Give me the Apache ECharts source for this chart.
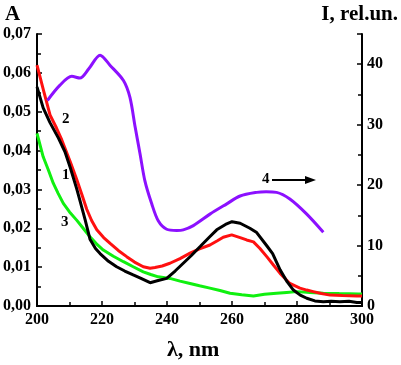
<!DOCTYPE html>
<html>
<head>
<meta charset="utf-8">
<script src="https://cdn.jsdelivr.net/npm/echarts@6/dist/echarts.min.js"></script>
<style>html,body{margin:0;padding:0;background:#fff}#c{width:401px;height:365px}</style>
</head>
<body>
<div id="c"></div>
<script>
// Curve 1 (black), absorbance
const wl1 = [200,201.9,204,206.6,208.6,210.2,212.2,213.2,214.8,216.3,218,219.4,222,224.5,227,229.6,232,234.8,237,239.9,242.5,245,247.5,250.2,253,255.3,258,260,262.5,265.5,267.6,270.7,272.5,274.8,277,278.9,281,283,285.5,288.1,290.5,293.2,296,298.4,300];
const a1 = [0.0564,0.0510,0.0472,0.0432,0.0397,0.0357,0.0302,0.0272,0.0222,0.0172,0.0148,0.0135,0.0115,0.0101,0.009,0.008,0.0071,0.006,0.0065,0.0071,0.009,0.011,0.013,0.0153,0.0177,0.0196,0.021,0.0217,0.0213,0.02,0.0189,0.0155,0.0135,0.0093,0.0062,0.0041,0.0028,0.002,0.0013,0.0011,0.0012,0.0011,0.0012,0.0009,0.0009];
// Curve 2 (red), absorbance
const wl2 = [200,202,204,206,207.6,210.2,212.2,213.8,215.3,216.8,218.4,220.5,222.5,225,227.6,230,232.7,234.8,236.3,238.5,240.9,244,247.1,250,253.2,255.5,257.3,259.9,262.5,264.5,266.6,268.6,270.7,272.8,274.8,277.8,280.9,283,285,287.5,290.2,294,298.4,300];
const a2 = [0.062,0.0555,0.0492,0.0458,0.0428,0.0372,0.0326,0.0287,0.0249,0.022,0.0196,0.0176,0.0161,0.0143,0.0127,0.0113,0.0101,0.0097,0.0099,0.0103,0.011,0.0122,0.0136,0.0147,0.0157,0.0168,0.0177,0.0183,0.0176,0.017,0.0165,0.0148,0.0127,0.0105,0.0084,0.0058,0.0046,0.0041,0.0037,0.0032,0.0028,0.0027,0.0026,0.0026];
// Curve 3 (green), absorbance
const wl3 = [200,201.9,203.5,205,206.5,208.1,210,212.2,214.2,216.3,218.3,220.4,223.5,226.6,229.6,232.7,235,237.3,240.9,244,247.1,250,253.2,256.3,259.4,263,266.6,270,273.7,276.8,279.9,284,288.1,293,298.9,300];
const a3 = [0.0444,0.0384,0.035,0.0316,0.029,0.0264,0.0242,0.0221,0.02,0.0178,0.016,0.0144,0.0128,0.0114,0.0101,0.0088,0.0081,0.0075,0.0071,0.0064,0.0058,0.0052,0.0046,0.004,0.0033,0.0029,0.0026,0.003,0.0033,0.0035,0.0037,0.0035,0.0033,0.0032,0.0031,0.0031];
// Curve 4 (violet), intensity, rel.un.
const wl4 = [203.2,207,210.7,213.2,216,219.4,222.5,226.6,228.6,230.2,231.7,233.2,235.3,237.3,239.9,243,245,248.1,253.2,258.4,262.5,267.6,270.5,273.7,277.8,283,288.1];
const i4 = [34.0,36.5,38.0,37.7,39.3,41.5,39.8,37.3,34.5,29.6,25.2,20.7,16.9,14.1,12.7,12.5,12.6,13.3,15.2,16.9,18.2,18.8,18.9,18.8,17.7,15.2,12.2];

const xTicks = [200,220,240,260,280,300];
const labelsAt = ['1','2','3','4'];

const zip = (x, y) => x.map((v, i) => [v, y[i]]);
const serif = '"Liberation Serif","Times New Roman",serif';

const chart = echarts.init(document.getElementById('c'), null, {renderer: 'canvas'});
const axisLine = {show: true, lineStyle: {color: '#000', width: 2}};
const lbl = {color: '#000', fontFamily: serif, fontWeight: 'bold', fontSize: 16};

chart.setOption({
  animation: false,
  grid: {left: 37, right: 39, top: 34, bottom: 59},
  xAxis: [{
    type: 'value', min: xTicks[0], max: xTicks[xTicks.length - 1], interval: 20,
    axisLine: axisLine,
    axisTick: {show: true, inside: true, length: 5, lineStyle: {width: 1.5, color: '#000'}},
    minorTick: {show: true, splitNumber: 2, length: 4, lineStyle: {width: 1.5, color: '#000'}},
    splitLine: {show: false},
    axisLabel: Object.assign({margin: 6}, lbl)
  }, {
    type: 'value', position: 'top', min: 200, max: 300,
    axisLine: axisLine, axisTick: {show: false}, axisLabel: {show: false}, splitLine: {show: false}
  }],
  yAxis: [{
    type: 'value', min: 0, max: 0.07, interval: 0.01,
    axisLine: axisLine,
    axisTick: {show: true, inside: true, length: 5, lineStyle: {width: 1.5, color: '#000'}},
    minorTick: {show: true, splitNumber: 2, length: 4, lineStyle: {width: 1.5, color: '#000'}},
    splitLine: {show: false},
    axisLabel: Object.assign({margin: 6, formatter: v => v.toFixed(2).replace('.', ',')}, lbl)
  }, {
    type: 'value', position: 'right', min: 0, max: 45, interval: 10,
    axisLine: axisLine,
    axisTick: {show: true, inside: true, length: 5, lineStyle: {width: 1.5, color: '#000'}},
    minorTick: {show: true, splitNumber: 2, length: 4, lineStyle: {width: 1.5, color: '#000'}},
    splitLine: {show: false},
    axisLabel: Object.assign({margin: 5, showMaxLabel: false, formatter: v => (v % 10 === 0 ? String(v) : '')}, lbl)
  }],
  series: [
    {type: 'line', data: zip(wl1, a1), showSymbol: false, lineStyle: {color: '#000000', width: 3}, z: 4},
    {type: 'line', data: zip(wl2, a2), showSymbol: false, lineStyle: {color: '#ff1010', width: 3}, z: 3},
    {type: 'line', data: zip(wl3, a3), showSymbol: false, lineStyle: {color: '#10f010', width: 3}, z: 2},
    {type: 'line', yAxisIndex: 1, data: zip(wl4, i4), smooth: 0.3, showSymbol: false, lineStyle: {color: '#8c10ff', width: 3}, z: 5}
  ],
  graphic: [
    {type: 'text', left: 5, top: 4, style: {text: 'A', font: 'bold 21px ' + serif, fill: '#000'}},
    {type: 'text', right: 3, top: 4, style: {text: 'I, rel.un.', font: 'bold 21px ' + serif, fill: '#000'}},
    {type: 'text', left: 167, top: 339, style: {text: 'λ, nm', font: 'bold 22px ' + serif, fill: '#000'}},
    {type: 'text', x: 62, y: 168, style: {text: labelsAt[0], font: 'bold 15px ' + serif, fill: '#000'}},
    {type: 'text', x: 62, y: 112, style: {text: labelsAt[1], font: 'bold 15px ' + serif, fill: '#000'}},
    {type: 'text', x: 61, y: 215, style: {text: labelsAt[2], font: 'bold 15px ' + serif, fill: '#000'}},
    {type: 'text', x: 262, y: 172, style: {text: labelsAt[3], font: 'bold 15px ' + serif, fill: '#000'}},
    {type: 'line', shape: {x1: 272, y1: 180, x2: 308, y2: 180}, style: {stroke: '#000', lineWidth: 2}},
    {type: 'polygon', shape: {points: [[305, 176], [316, 180], [305, 184]]}, style: {fill: '#000'}}
  ]
});
</script>
</body>
</html>
